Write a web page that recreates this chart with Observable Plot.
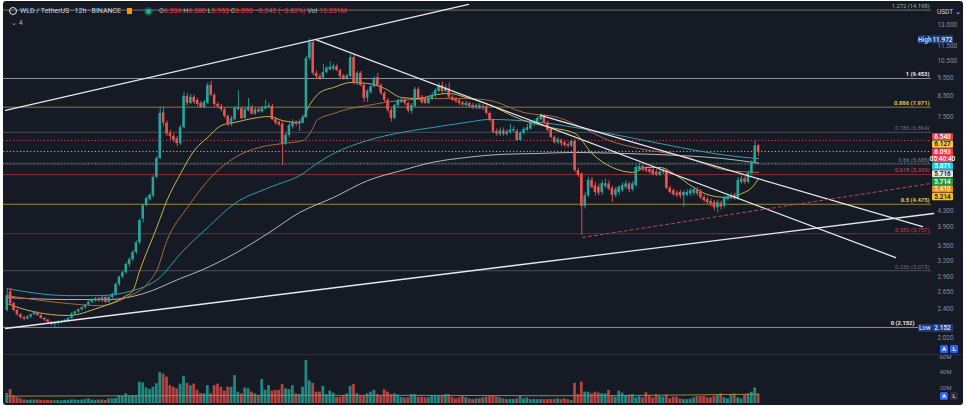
<!DOCTYPE html>
<html><head><meta charset="utf-8">
<script src="https://cdn.jsdelivr.net/npm/d3@7"></script>
<script src="https://cdn.jsdelivr.net/npm/@observablehq/plot@0.6"></script>
<style>
html,body{margin:0;padding:0;background:#fff;}
#wrap{position:relative;width:966px;height:410px;overflow:hidden;background:#fff;font-family:Roboto,"Noto Sans",sans-serif;}
#panel{position:absolute;left:3px;top:1px;width:960px;height:404px;background:#161a25;border-radius:3px;}
#price,#vol{position:absolute;left:0;}
#price{top:0;}
#vol{top:355px;}
#sep{position:absolute;left:3px;width:960px;top:354px;height:1px;background:#2a2e39;}
#hdr{position:absolute;left:9px;top:7px;font-size:7px;color:#d1d4dc;white-space:nowrap;line-height:9px;}
#hdr .r{color:#f23645;}
#hdr .g{color:#b2b5be;}
.logo{display:inline-block;width:6px;height:6px;border:1.5px solid #e0e3eb;border-radius:50%;vertical-align:-2px;margin-right:3px;position:relative;}
.sq{display:inline-block;width:5px;height:6px;background:#ff9800;vertical-align:-1px;margin:0 6px 0 6px;}
.gd{display:inline-block;width:5px;height:5px;background:#22ab94;border-radius:50%;vertical-align:-1px;margin:0 8px 0 8px;box-shadow:0 0 0 2px rgba(34,171,148,0.3);}
#hdr2{position:absolute;left:11px;top:19px;font-size:7px;color:#b2b5be;}
#usdt{position:absolute;left:937px;top:8px;font-size:6.5px;color:#d1d4dc;}
.btn{position:absolute;width:8px;height:8px;border-radius:1.5px;font-size:6px;font-weight:700;color:#fff;text-align:center;line-height:8px;}
</style></head>
<body>
<div id="wrap">
  <div id="panel"></div>
  <div id="price"></div>
  <div id="sep"></div>
  <div id="vol"></div>
  <div id="hdr"></div>
  <div id="hdr2">&#8964; 4</div>
  <div id="usdt">USDT &#8964;</div>
  <div class="btn" style="left:940px;top:345px;background:#2962ff;">A</div>
  <div class="btn" style="left:950px;top:345px;background:#2962ff;">L</div>
  <div class="btn" style="left:940px;top:392px;background:#2962ff;">A</div>
  <div class="btn" style="left:950px;top:392px;background:#2a2e39;color:#b2b5be;">L</div>
</div>
<script>
// ---------- data ----------
const symbol = "WLD / TetherUS · 12h · BINANCE";
const candleOpen = [
2.38,2.66,2.48,2.38,2.32,2.28,2.26,2.29,2.32,2.35,
2.31,2.27,2.25,2.22,2.19,2.20,2.21,2.22,2.24,2.27,
2.33,2.36,2.39,2.42,2.46,2.50,2.52,2.55,2.52,2.57,
2.50,2.57,2.62,2.78,2.90,2.98,3.13,3.22,3.36,3.56,
4.10,4.44,4.60,4.70,5.25,5.87,7.70,7.25,6.82,6.70,
6.60,6.42,7.06,8.50,8.15,8.45,8.30,8.15,7.96,8.15,
9.07,8.55,8.10,8.00,7.85,7.55,7.20,7.40,7.85,7.90,
7.45,7.80,7.95,7.65,7.85,7.75,7.88,7.95,8.00,7.40,
7.28,7.20,6.42,6.74,7.10,7.27,7.20,7.25,7.50,10.65,
11.70,9.75,9.55,9.48,9.80,9.95,10.00,10.15,9.90,9.60,
9.45,9.55,10.70,9.20,9.75,9.07,8.40,8.70,9.00,9.50,
9.07,8.65,8.30,7.82,7.45,8.05,8.20,8.32,8.15,7.78,
8.00,8.85,8.45,8.35,8.15,8.35,8.55,8.75,9.07,8.75,
8.90,8.45,8.35,8.28,8.18,8.05,8.15,8.05,7.95,8.05,
7.90,8.00,7.68,7.36,6.90,6.78,6.92,6.78,6.85,6.92,
6.90,6.54,6.82,6.95,7.00,7.20,7.20,7.40,7.55,7.25,
6.98,6.66,6.46,6.55,6.45,6.38,6.32,6.50,5.47,5.35,
4.42,4.71,5.16,5.00,4.95,4.80,4.98,5.05,4.92,4.72,
4.80,4.85,4.95,5.05,4.88,5.00,5.50,5.60,5.52,5.50,
5.48,5.42,5.32,5.40,5.45,4.92,4.85,4.78,4.80,4.70,
4.72,4.76,4.78,4.86,4.80,4.66,4.60,4.55,4.52,4.38,
4.50,4.42,4.60,4.65,4.72,4.62,5.10,5.20,5.10,5.37,
5.71,6.336];
const candleHigh = [
2.71,2.72,2.50,2.40,2.34,2.30,2.31,2.33,2.37,2.36,
2.32,2.28,2.26,2.23,2.22,2.24,2.24,2.26,2.28,2.35,
2.37,2.40,2.43,2.47,2.52,2.55,2.57,2.57,2.60,2.60,
2.59,2.64,2.80,2.92,3.00,3.16,3.26,3.40,3.60,4.10,
4.48,4.68,4.76,5.30,5.95,7.96,7.98,7.35,6.95,6.80,
6.70,7.15,8.70,8.65,8.60,8.55,8.40,8.25,8.30,9.20,
9.30,8.65,8.20,8.10,7.95,7.60,7.55,8.00,8.80,7.98,
7.95,8.40,8.05,7.95,7.95,8.00,8.30,8.15,8.10,7.50,
7.35,7.30,6.85,7.25,7.40,7.35,7.40,7.60,10.80,11.972,
11.90,9.90,9.70,10.30,10.15,10.45,10.30,10.30,10.00,9.70,
9.70,10.90,10.85,9.85,9.85,9.15,8.85,9.10,9.55,9.75,
9.15,8.75,8.40,7.90,8.10,8.35,8.45,8.40,8.20,8.15,
8.95,8.95,8.55,8.45,8.50,8.70,8.90,9.20,9.25,9.10,
9.20,8.55,8.45,8.35,8.25,8.25,8.20,8.15,8.12,8.15,
8.10,8.05,7.75,7.42,7.00,7.05,7.05,6.98,7.20,7.10,
6.98,6.90,7.05,7.20,7.35,7.40,7.55,7.65,7.62,7.35,
7.05,6.72,6.65,6.60,6.52,6.45,6.58,6.58,5.55,5.40,
4.80,5.25,5.25,5.10,5.05,5.15,5.20,5.15,4.98,4.95,
5.00,5.08,5.15,5.10,5.12,5.65,5.70,5.65,5.60,5.58,
5.55,5.50,5.50,5.55,5.52,4.98,4.90,4.85,4.86,4.85,
4.88,4.92,4.95,4.95,4.88,4.72,4.66,4.62,4.58,4.58,
4.56,4.70,4.75,4.78,4.78,5.25,5.30,5.28,5.45,5.80,
6.54,6.380];
const candleLow = [
2.36,2.46,2.36,2.30,2.26,2.24,2.25,2.27,2.31,2.30,
2.26,2.23,2.21,2.17,2.152,2.18,2.20,2.21,2.22,2.26,
2.31,2.34,2.37,2.40,2.44,2.48,2.50,2.50,2.50,2.48,
2.48,2.55,2.60,2.75,2.87,2.95,3.08,3.18,3.32,3.52,
4.00,4.40,4.56,4.65,5.20,5.85,7.10,6.70,6.55,6.45,
6.30,6.35,7.00,8.05,8.10,8.10,8.00,7.90,7.90,8.10,
8.50,8.00,7.90,7.75,7.45,7.10,7.10,7.35,7.80,7.40,
7.40,7.75,7.60,7.60,7.70,7.70,7.85,7.90,7.35,7.15,
7.10,5.64,6.35,6.65,7.00,7.10,6.90,7.20,7.45,10.50,
9.60,9.40,9.35,9.40,9.70,9.90,9.90,9.85,9.45,9.35,
9.35,9.50,9.10,9.05,9.00,8.20,8.20,8.60,8.95,9.00,
8.55,8.20,7.70,7.30,7.40,7.95,8.15,8.05,7.70,7.65,
7.95,8.30,8.10,8.10,8.10,8.30,8.45,8.70,8.65,8.70,
8.40,8.25,8.15,8.05,8.00,7.98,7.92,7.85,7.85,7.85,
7.82,7.60,7.30,6.80,6.70,6.70,6.70,6.72,6.80,6.85,
6.50,6.50,6.75,6.90,6.95,7.10,7.15,7.35,7.20,6.90,
6.60,6.40,6.38,6.30,6.28,6.25,6.28,5.40,5.25,3.72,
4.35,4.65,4.90,4.70,4.70,4.72,4.92,4.85,4.52,4.65,
4.72,4.80,4.90,4.80,4.82,4.95,5.45,5.42,5.40,5.35,
5.30,5.28,5.28,5.35,4.88,4.75,4.68,4.65,4.62,4.40,
4.68,4.70,4.72,4.70,4.60,4.52,4.46,4.40,4.30,4.25,
4.33,4.38,4.55,4.60,4.58,4.58,5.05,5.02,5.05,5.30,
5.68,5.953];
const candleClose = [
2.60,2.48,2.38,2.32,2.28,2.26,2.29,2.32,2.35,2.31,
2.27,2.25,2.22,2.19,2.21,2.22,2.23,2.24,2.27,2.33,
2.36,2.39,2.42,2.46,2.50,2.53,2.55,2.52,2.57,2.50,
2.57,2.62,2.78,2.90,2.98,3.13,3.22,3.36,3.56,4.06,
4.44,4.63,4.72,5.25,5.87,7.68,7.25,6.80,6.70,6.55,
6.42,7.06,8.50,8.15,8.45,8.20,8.10,7.96,8.20,9.07,
8.55,8.10,8.00,7.85,7.55,7.20,7.45,7.91,7.95,7.45,
7.85,7.95,7.65,7.85,7.75,7.90,7.98,8.02,7.40,7.25,
7.18,6.42,6.74,7.15,7.27,7.20,7.28,7.50,10.65,11.70,
9.75,9.55,9.45,9.80,10.05,10.10,10.15,9.90,9.55,9.45,
9.60,10.70,9.20,9.75,9.07,8.40,8.75,9.00,9.45,9.07,
8.65,8.30,7.82,7.45,8.05,8.29,8.32,8.15,7.80,8.05,
8.85,8.40,8.20,8.15,8.40,8.55,8.80,9.07,8.75,8.95,
8.45,8.30,8.25,8.15,8.08,8.15,8.00,7.95,8.05,7.90,
8.00,7.68,7.36,6.86,6.80,6.92,6.78,6.88,6.95,6.98,
6.54,6.82,6.98,7.05,7.25,7.30,7.45,7.55,7.25,6.95,
6.66,6.46,6.58,6.42,6.35,6.32,6.50,5.47,5.31,4.42,
4.71,5.16,4.95,4.80,4.78,5.06,5.06,4.90,4.72,4.88,
4.95,5.00,5.05,4.88,5.05,5.57,5.60,5.50,5.45,5.42,
5.35,5.32,5.42,5.45,4.92,4.80,4.74,4.72,4.70,4.80,
4.80,4.85,4.88,4.76,4.65,4.58,4.52,4.48,4.38,4.52,
4.40,4.63,4.68,4.70,4.62,5.16,5.20,5.10,5.37,5.71,
6.335,6.093];
const volumeM = [
13,18,10,7.5,6,4.5,4,4.5,4.5,4.5,
3.8,4,4,3.8,3.5,3.8,3.5,4,4,4.5,
4.5,4,4.5,5,6,4.5,4,4.5,4.5,4,
6,6,6.5,10,9,12.5,9,10,10,27.5,
26.6,20,18,21,25.5,40,38,34,23,21,
19,25,35,26,23,25,17,12.5,12.5,23,
12.5,23,25,21,16,21,21,36,14.6,12.5,
20,19,14.6,12.5,10,31,17,23,16,17,
17,24.5,19,18,23,12.5,11.5,21,55.5,29,
26,14.6,14.6,22,11.5,16,13.5,8,8,10,
12.5,22,24.5,12.5,10,9,12.5,14.6,17,11.5,
10,17.5,14.6,11.5,12.5,11,8,7,7.5,11.5,
11.5,8,8,7.5,7.5,10,9,9,9,11.5,
11.5,8,6,7.5,9,7.5,6,5,6,6,
7.3,8.2,9,10.3,8.2,7.3,6,5,5.6,5.2,
6,9,6,7.3,5,5.2,5,5,5,5,
5.2,5.2,6,5,6,5,3.9,26,11.5,27.5,
14.6,14.6,12.5,14.6,13.5,12.5,12.5,16.8,9,8.2,
16,13.5,10.3,11,11.5,7.3,9,7.3,14,10.3,
7.3,11.5,9,8.2,11,6,8.2,8.2,6,5.2,
5,5.6,7.3,9,9,9,7.3,7.3,9,10.3,
12.5,7.3,6,10.3,12.5,7.3,6,11,12.5,14.6,
20,12.231];
// moving averages: [candle index, price]
const maFast = [[0,2.48],[4,2.41],[18,2.31],[27,2.42],[30,2.47],[35,2.60],[37,2.68],[39,3.02],[44,3.90],[47,4.58],[51,5.37],[55,6.16],[59,6.66],[63,7.15],[67,7.28],[72,7.45],[77,7.54],[81,7.36],[86,7.28],[89,8.10],[92,8.70],[96,8.96],[101,9.23],[106,9.18],[111,8.91],[116,8.44],[121,8.39],[125,8.55],[130,8.65],[135,8.44],[140,8.20],[152,7.36],[160,7.06],[167,6.82],[172,6.05],[178,5.57],[184,5.41],[188,5.57],[192,5.57],[196,5.37],[202,4.94],[207,4.71],[212,4.66],[216,4.77],[219,4.94],[221,5.214]];
const maMid = [[0,2.60],[18,2.48],[27,2.45],[35,2.57],[42,2.84],[44,3.02],[47,3.61],[53,4.39],[61,5.37],[67,5.91],[74,6.27],[81,6.42],[87,6.54],[90,7.06],[91,7.36],[96,7.68],[101,7.91],[106,8.05],[111,8.20],[116,8.29],[125,8.39],[135,8.39],[142,8.29],[152,7.72],[162,7.50],[169,7.06],[177,6.54],[186,6.23],[198,5.98],[212,5.47],[221,5.410]];
const maSlow = [[0,2.71],[18,2.60],[27,2.60],[37,2.68],[45,2.90],[51,3.34],[59,3.90],[67,4.50],[77,4.94],[87,5.37],[91,5.70],[96,6.05],[106,6.54],[116,6.86],[125,7.06],[135,7.28],[142,7.41],[157,7.28],[172,6.94],[186,6.58],[198,6.27],[212,5.98],[221,5.871]];
const maLong = [[0,2.57],[18,2.54],[30,2.54],[40,2.63],[51,2.88],[57,3.02],[67,3.34],[77,3.78],[86,4.26],[96,4.66],[106,5.15],[116,5.47],[125,5.74],[135,5.91],[145,6.02],[155,6.05],[167,6.09],[182,6.05],[198,5.98],[210,5.88],[221,5.716]];
const volMA = [[0,9.5],[40,10],[80,10.5],[120,10.5],[160,10],[200,11],[221,12]];
// fibonacci retracement
const fibRatio = [1.272, 1, 0.886, 0.786, 0.66, 0.618, 0.5, 0.382, 0.236, 0];
const fibPrice = [14.198, 9.453, 7.971, 6.864, 5.685, 5.339, 4.475, 3.757, 3.015, 2.152];
// dotted price lines
const dotPrice = [6.540, 6.127, 5.714];
// trend lines: [candle index, price] end points
const trendUpper = [[-0.5,7.82],[135.7,14.68]];
const trendLower = [[-0.5,2.138],[272.5,4.236]];
const trendDownA = [[90.9,11.9],[261.3,3.26]];
const trendDownB = [[156.9,7.59],[269.2,3.92]];
const trendDashed = [[169.2,3.673],[271.6,5.063]];
// axis ticks
const priceTicks = [13, 11.5, 10.5, 9.5, 8.5, 7.5, 4.3, 3.9, 3.5, 3.2, 2.9, 2.65, 2.4, 2.02];
const volTicks = [20, 40, 60];
// price tags on the scale
const tagValue = [6.540, 6.127, 6.093, 5.871, 5.716, 5.714, 5.410, 5.214];
const tagSub = ["", "", "05:40:40", "", "", "", "", ""];

// ---------- styles ----------
const UP = "#26a69a", DOWN = "#ef5350";
const VUP = "#22877e", VDOWN = "#b4433f";
const fibLine = ["#6d7b6a","#8f929b","#8a7d2c","#4a4e59","#4a4e59","#8a2d38","#958838","#7a2832","#4a4e59","#8f929b"];
const fibText = ["#9ab58e","#e6e8ee","#e5c53c","#6c707c","#7d818c","#d9434f","#e6cb45","#c63f4b","#6c707c","#e6e8ee"];
const fibBold = [false,true,true,false,false,false,true,false,false,true];
const fibDx = [-2,-2,-2,-2,-2,-2,-2,-2,-2,-17];
const dotColor = ["#e0404f","#d9bf3f","#3f9e4a"];
const tagFill = ["#f23645","#f5c842","#f23645","#26c6da","#e6e6e6","#1e9a3c","#f28a0d","#f5c21b"];
const tagInk = ["#ffffff","#131722","#ffffff","#ffffff","#131722","#ffffff","#fff6d6","#131722"];

const candles = candleOpen.map((o, i) => ({i, o, h: candleHigh[i], l: candleLow[i], c: candleClose[i], v: volumeM[i]}));
const isUp = d => d.c >= d.o;
const W = 966;
const xDomain = [-1.09, 271.85];
const LM = 3, RM = 35;

function tagsMark(index, {y}, values, {width, marginRight}) {
  const g = d3.create("svg:g").attr("font-size", 6.4).attr("font-weight", 600).attr("text-anchor", "middle");
  const x0 = width - marginRight + 1, w = 21;
  let top = y(tagValue[0]) - 7;
  tagValue.forEach((v, k) => {
    const h = tagSub[k] ? 14 : 7.2;
    g.append("rect").attr("x", x0).attr("y", top).attr("width", w).attr("height", h).attr("rx", 1).attr("fill", tagFill[k]);
    g.append("text").attr("x", x0 + w / 2).attr("y", top + 3.6).attr("dy", "0.35em").attr("fill", tagInk[k]).text(v.toFixed(3));
    if (tagSub[k]) g.append("text").attr("x", x0 + w / 2).attr("y", top + 10.4).attr("dy", "0.35em").attr("fill", tagInk[k]).text(tagSub[k]);
    top += h + 0.4;
  });
  return g.node();
}
function extremaMark(index, {y}, values, {width, marginRight}) {
  const g = d3.create("svg:g").attr("font-size", 6.4).attr("font-weight", 600).attr("text-anchor", "middle");
  const x0 = width - marginRight + 1;
  [[d3.max(candleHigh), "High"], [d3.min(candleLow), "Low"]].forEach(([v, lab]) => {
    const cy = y(v) + 1;
    g.append("rect").attr("x", x0 - 14).attr("y", cy - 4).attr("width", 13.5).attr("height", 8).attr("fill", "#1d3a70");
    g.append("text").attr("x", x0 - 7.2).attr("y", cy).attr("dy", "0.35em").attr("fill", "#c9d6f5").text(lab);
    g.append("rect").attr("x", x0).attr("y", cy - 4).attr("width", 21).attr("height", 8).attr("fill", "#1e3f7c");
    g.append("text").attr("x", x0 + 10.5).attr("y", cy).attr("dy", "0.35em").attr("fill", "#dfe6fa").text(v.toFixed(3));
  });
  return g.node();
}
const line = (data, stroke, extra = {}) => Plot.line(data, {x: d => d[0], y: d => d[1], stroke, strokeWidth: 1, ...extra});
const fibLabel = (bold, shift) => Plot.text(fibPrice, {
  filter: (d, i) => fibBold[i] === bold && (fibDx[i] !== -2) === shift,
  y: d => d, text: (d, i) => `${fibRatio[i]} (${d.toFixed(3)})`,
  frameAnchor: "right", textAnchor: "end", dx: shift ? -17 : -2, dy: -4,
  fill: (d, i) => fibText[i], fontSize: 5.8, fontWeight: bold ? 700 : 400
});

const price = Plot.plot({
  width: W, height: 355,
  marginLeft: LM, marginRight: RM, marginTop: 0, marginBottom: 15,
  style: {background: "transparent", fontFamily: "Roboto, sans-serif", overflow: "visible"},
  x: {domain: xDomain, axis: null},
  y: {type: "log", domain: [1.991, 15.03], axis: null},
  color: {type: "identity"},
  marks: [
    Plot.ruleY(fibPrice, {y: d => d, stroke: (d, i) => fibLine[i], strokeWidth: 1}),
    Plot.ruleY(dotPrice, {y: d => d, stroke: (d, i) => dotColor[i], strokeDasharray: "1.2,2.2", strokeWidth: 1}),
    line(maLong, "#cfd1d6", {curve: "monotone-x", strokeOpacity: 0.85}),
    line(maSlow, "#2a9fb0", {curve: "monotone-x"}),
    line(maMid, "#a86a3a", {curve: "monotone-x"}),
    line(maFast, "#c9b44a", {curve: "monotone-x"}),
    Plot.ruleX(candles, {x: "i", y1: "l", y2: "h", stroke: d => isUp(d) ? UP : DOWN, strokeWidth: 0.9}),
    Plot.rect(candles, {x1: d => d.i - 0.37, x2: d => d.i + 0.37, y1: "o", y2: "c", fill: d => isUp(d) ? UP : DOWN}),
    line(trendUpper, "#e8e9ec", {strokeWidth: 1.3}),
    line(trendLower, "#e8e9ec", {strokeWidth: 1.3}),
    line(trendDownA, "#e8e9ec", {strokeWidth: 1.3}),
    line(trendDownB, "#e8e9ec", {strokeWidth: 1.3}),
    line(trendDashed, "#b5495a", {strokeWidth: 1, strokeDasharray: "3,3"}),
    fibLabel(false, false),
    fibLabel(true, false),
    fibLabel(true, true),
    Plot.text(priceTicks, {y: d => d, text: d => d.toFixed(3), frameAnchor: "right", textAnchor: "start", dx: 6, fill: "#8b8e98", fontSize: 6.4}),
    extremaMark,
    tagsMark
  ]
});
document.getElementById("price").appendChild(price);

const vol = Plot.plot({
  width: W, height: 50,
  marginLeft: LM, marginRight: RM, marginTop: 1.5, marginBottom: 2,
  style: {background: "transparent", fontFamily: "Roboto, sans-serif", overflow: "visible"},
  x: {domain: xDomain, axis: null},
  y: {domain: [0, 60], axis: null},
  color: {type: "identity"},
  marks: [
    Plot.rectY(candles, {x1: d => d.i - 0.41, x2: d => d.i + 0.41, y: "v", fill: d => isUp(d) ? VUP : VDOWN}),
    line(volMA, "#9a8a3a", {curve: "monotone-x"}),
    Plot.text(volTicks, {y: d => d, text: d => d + "M", frameAnchor: "right", textAnchor: "start", dx: 8, fill: "#8b8e98", fontSize: 6})
  ]
});
document.getElementById("vol").appendChild(vol);

// header legend built from the last candle
const n = candleClose.length - 1;
const chg = candleClose[n] - candleClose[n - 1];
const pct = chg / candleClose[n - 1] * 100;
const f3 = v => v.toFixed(3);
document.getElementById("hdr").innerHTML =
  `<span class="logo"></span>${symbol}<span class="sq"></span><span class="gd"></span>` +
  `<span class="g">O</span><span class="r">${f3(candleOpen[n])}</span> ` +
  `<span class="g">H</span><span class="r">${f3(candleHigh[n])}</span> ` +
  `<span class="g">L</span><span class="r">${f3(candleLow[n])}</span> ` +
  `<span class="g">C</span><span class="r">${f3(candleClose[n])}</span> ` +
  `<span class="r">${(chg < 0 ? "\u2212" : "+") + Math.abs(chg).toFixed(3)} (${(pct < 0 ? "\u2212" : "+") + Math.abs(pct).toFixed(2)}%)</span> ` +
  `<span class="g">Vol</span> <span class="r">${volumeM[n].toFixed(3)}M</span>`;
</script>
</body></html>
